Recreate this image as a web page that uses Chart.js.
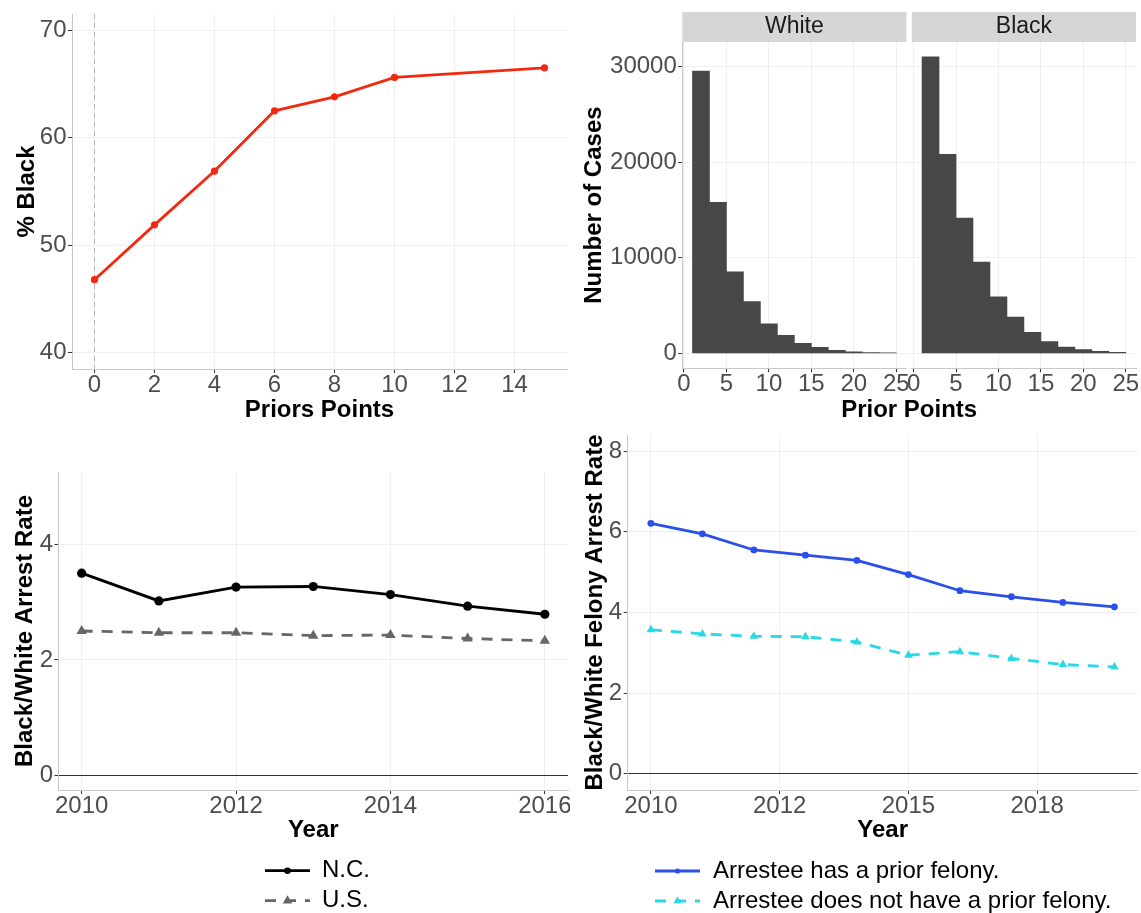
<!DOCTYPE html>
<html>
<head>
<meta charset="utf-8">
<title>Priors, race and arrest rates</title>
<script src="https://cdn.jsdelivr.net/npm/chart.js@4.4.1/dist/chart.umd.min.js"></script>
<style>
  html, body { margin: 0; padding: 0; background: #ffffff; }
  #page { position: relative; width: 1141px; height: 913px; overflow: hidden; }
  #page canvas { position: absolute; }
</style>
</head>
<body>
<div id="page">
  <canvas id="priorsChart" width="570" height="430" style="left:0;top:0"></canvas>
  <canvas id="histChart" width="571" height="430" style="left:570px;top:0"></canvas>
  <canvas id="arrestChart" width="570" height="483" style="left:0;top:430px"></canvas>
  <canvas id="felonyChart" width="571" height="483" style="left:570px;top:430px"></canvas>
</div>
<script>
// ---- Datos ----

// Panel 1: % Black según puntos de antecedentes
const priorPoints = [0, 2, 4, 6, 8, 10, 15];
const pctBlack = [46.8, 51.9, 56.9, 62.5, 63.8, 65.6, 66.5];
const pctTicks = [40, 50, 60, 70];
const priorTicks = [0, 2, 4, 6, 8, 10, 12, 14];

// Panel 2: histograma de casos (bins de ancho 2, de 1 a 25)
const facetLabels = ['White', 'Black'];
const binCenters = [2, 4, 6, 8, 10, 12, 14, 16, 18, 20, 22, 24];
const whiteCases = [29500, 15780, 8520, 5420, 3090, 1880, 1040, 630, 320, 170, 90, 50];
const blackCases = [31000, 20800, 14150, 9550, 5900, 3800, 2190, 1220, 650, 400, 220, 110];
const caseTicks = [0, 10000, 20000, 30000];
const binTicks = [0, 5, 10, 15, 20, 25];

// Panel 3: razón de arrestos Black/White
const arrestYears = [2010, 2011, 2012, 2013, 2014, 2015, 2016];
const ncRate = [3.50, 3.02, 3.26, 3.27, 3.13, 2.93, 2.79];
const usRate = [2.50, 2.47, 2.47, 2.42, 2.43, 2.37, 2.33];
const arrestRateTicks = [0, 2, 4];
const arrestYearTicks = [2010, 2012, 2014, 2016];
const arrestSeriesLabels = ['N.C.', 'U.S.'];

// Panel 4: razón de arrestos por delito grave
const felonyYears = [2010, 2011, 2012, 2013, 2014, 2015, 2016, 2017, 2018, 2019];
const priorFelony = [6.21, 5.95, 5.55, 5.42, 5.29, 4.94, 4.54, 4.39, 4.25, 4.14];
const noPriorFelony = [3.57, 3.47, 3.41, 3.40, 3.27, 2.94, 3.03, 2.86, 2.71, 2.65];
const felonyRateTicks = [0, 2, 4, 6, 8];
const felonyYearTicks = [2010, 2012.5, 2015, 2017.5];
const felonyYearLabels = ['2010', '2012', '2015', '2018'];
const felonySeriesLabels = ['Arrestee has a prior felony.', 'Arrestee does not have a prior felony.'];

// ---- Estilo común ----
const FONT = "'Liberation Sans', Arial, Helvetica, sans-serif";
const GRID = '#efefef';
const ZERO_LINE = '#333333';
const AXIS_LINE = '#c8c8c8';
const TICK_MARK = '#333333';
const TICK_TEXT = '#4d4d4d';

Chart.defaults.font.family = FONT;
Chart.defaults.animation = false;
Chart.defaults.responsive = false;
Chart.defaults.events = [];
Chart.defaults.plugins.legend.display = false;
Chart.defaults.plugins.tooltip.enabled = false;

function toPoints(xs, ys) {
    return xs.map((x, i) => ({ x: x, y: ys[i] }));
}

// Eje lineal con ticks fijos y tamaño fijo (para controlar el área del gráfico)
function axis(cfg) {
    const vertical = cfg.position === 'left';
    return {
        type: 'linear',
        position: cfg.position,
        min: cfg.min,
        max: cfg.max,
        offset: false,
        stack: cfg.stack,
        stackWeight: cfg.stackWeight,
        afterBuildTicks: function(scale) {
            scale.ticks = cfg.ticks.map(v => ({ value: v }));
        },
        afterFit: function(scale) {
            if (vertical) scale.width = cfg.size; else scale.height = cfg.size;
            scale.paddingLeft = scale.paddingRight = scale.paddingTop = scale.paddingBottom = 0;
        },
        ticks: {
            autoSkip: false,
            maxRotation: 0,
            color: TICK_TEXT,
            padding: cfg.pad,
            font: { size: 24, lineHeight: 1 },
            callback: cfg.labels ? (v, i) => cfg.labels[i] : v => String(v)
        },
        grid: {
            offset: false,
            color: cfg.zeroLine ? (c => (c.tick && c.tick.value === 0) ? ZERO_LINE : GRID) : GRID,
            tickColor: TICK_MARK,
            tickLength: 4,
            lineWidth: 1
        },
        border: { color: AXIS_LINE, width: 1 },
        title: cfg.title ? {
            display: true,
            text: cfg.title,
            color: '#000000',
            font: { size: 24, weight: 'bold', lineHeight: 1.2 },
            padding: cfg.titlePad
        } : { display: false }
    };
}

// Eje vacío usado como separador o como franja de faceta
function blankAxis(position, stack, weight, size, title) {
    return {
        type: 'linear',
        position: position,
        stack: stack,
        stackWeight: weight,
        offset: false,
        afterFit: function(scale) {
            scale.height = size;
            scale.paddingLeft = scale.paddingRight = scale.paddingTop = scale.paddingBottom = 0;
        },
        ticks: { display: false },
        grid: { display: false },
        border: { display: false },
        title: title ? {
            display: true,
            text: title,
            color: '#1a1a1a',
            font: { size: 23, lineHeight: 1.2 },
            padding: { top: 1, bottom: 0 }
        } : { display: false }
    };
}

// Fondo gris de las franjas de faceta
const stripBackground = {
    id: 'stripBackground',
    beforeDraw(chart) {
        const ctx = chart.ctx;
        ctx.save();
        ctx.fillStyle = '#d6d6d6';
        Object.values(chart.scales).forEach(s => {
            if (s.options.position === 'top' && s.options.title.display) {
                ctx.fillRect(s.left, s.top, s.width, s.height);
            }
        });
        ctx.restore();
    }
};

// Leyenda vertical estilo ggplot: línea + marcador + texto
function drawMarker(ctx, style, r, x, y) {
    ctx.beginPath();
    if (style === 'triangle') {
        for (let k = 0; k < 3; k++) {
            const a = k * 2 * Math.PI / 3;
            const px = x + Math.sin(a) * r;
            const py = y - Math.cos(a) * r;
            if (k === 0) ctx.moveTo(px, py); else ctx.lineTo(px, py);
        }
        ctx.closePath();
    } else {
        ctx.arc(x, y, r, 0, Math.PI * 2);
    }
    ctx.fill();
}

const keyLegend = {
    id: 'keyLegend',
    afterDraw(chart, args, opts) {
        const ctx = chart.ctx;
        chart.data.datasets.forEach((ds, i) => {
            const y = opts.rows[i];
            ctx.save();
            ctx.strokeStyle = ds.borderColor;
            ctx.lineWidth = ds.borderWidth;
            ctx.setLineDash(ds.borderDash || []);
            ctx.beginPath();
            ctx.moveTo(opts.keyLeft, y);
            ctx.lineTo(opts.keyLeft + opts.keyWidth, y);
            ctx.stroke();
            ctx.setLineDash([]);
            ctx.fillStyle = ds.pointBackgroundColor;
            drawMarker(ctx, ds.pointStyle, opts.markerRadius[i], opts.keyLeft + opts.keyWidth / 2, y);
            ctx.fillStyle = '#000000';
            ctx.font = '24px ' + FONT;
            ctx.textBaseline = 'middle';
            ctx.textAlign = 'left';
            ctx.fillText(ds.label, opts.textLeft, y);
            ctx.restore();
        });
    }
};

// ---- Panel 1: % Black ----
new Chart(document.getElementById('priorsChart'), {
    type: 'line',
    data: {
        datasets: [{
            label: '% Black',
            data: toPoints(priorPoints, pctBlack),
            borderColor: '#f2290f',
            backgroundColor: '#f2290f',
            pointBackgroundColor: '#f2290f',
            pointBorderWidth: 0,
            pointRadius: 3.6,
            borderWidth: 2.8,
            tension: 0
        }]
    },
    options: {
        devicePixelRatio: 1,
        layout: { autoPadding: false, padding: { top: 14, right: 3, bottom: 0, left: 0 } },
        scales: {
            x: axis({ position: 'bottom', min: -0.75, max: 15.75, ticks: priorTicks, size: 61, pad: 0,
                      title: 'Priors Points', titlePad: { top: 0, bottom: 5 } }),
            xZero: {
                type: 'linear', position: 'bottom', min: -0.75, max: 15.75,
                afterBuildTicks: s => { s.ticks = [{ value: 0 }]; },
                afterFit: s => { s.height = 0; s.paddingLeft = s.paddingRight = 0; },
                ticks: { display: false },
                grid: { color: '#b4b4b4', drawTicks: false, lineWidth: 1 },
                border: { display: false, dash: [5, 4] }
            },
            y: axis({ position: 'left', min: 38.5, max: 71.5, ticks: pctTicks, size: 72, pad: 1.5,
                      title: '% Black', titlePad: { top: 13, bottom: 0 } })
        }
    }
});

// ---- Panel 2: histograma facetado ----
new Chart(document.getElementById('histChart'), {
    type: 'bar',
    data: {
        datasets: [{
            label: facetLabels[0],
            data: toPoints(binCenters, whiteCases),
            xAxisID: 'xWhite',
            yAxisID: 'y',
            backgroundColor: '#474747',
            grouped: false,
            categoryPercentage: 1,
            barPercentage: 1
        }, {
            label: facetLabels[1],
            data: toPoints(binCenters, blackCases),
            xAxisID: 'xBlack',
            yAxisID: 'y',
            backgroundColor: '#474747',
            grouped: false,
            categoryPercentage: 1,
            barPercentage: 1
        }]
    },
    options: {
        devicePixelRatio: 1,
        layout: { autoPadding: false, padding: { top: 12, right: 5, bottom: 0, left: 0 } },
        plugins: {
            subtitle: {
                display: true,
                position: 'bottom',
                fullSize: false,
                text: 'Prior Points',
                color: '#000000',
                font: { size: 24, weight: 'bold', lineHeight: 1.2 },
                padding: { top: 0, bottom: 5 }
            }
        },
        scales: {
            y: axis({ position: 'left', min: -1550, max: 32550, ticks: caseTicks, size: 112.3, pad: 1.5,
                      title: 'Number of Cases', titlePad: { top: 10, bottom: 0 } }),
            xWhite: axis({ position: 'bottom', min: -0.2, max: 26.2, ticks: binTicks, size: 28, pad: 0,
                           stack: 'facet', stackWeight: 224 }),
            xGap: blankAxis('bottom', 'facet', 5.4, 28, null),
            xBlack: axis({ position: 'bottom', min: -0.2, max: 26.2, ticks: binTicks, size: 28, pad: 0,
                           stack: 'facet', stackWeight: 224 }),
            // las cajas superiores se colocan en orden inverso
            stripBlack: blankAxis('top', 'strip', 224, 30, facetLabels[1]),
            stripGap: blankAxis('top', 'strip', 5.4, 30, null),
            stripWhite: blankAxis('top', 'strip', 224, 30, facetLabels[0])
        }
    },
    plugins: [stripBackground]
});

// ---- Panel 3: Black/White Arrest Rate ----
new Chart(document.getElementById('arrestChart'), {
    type: 'line',
    data: {
        datasets: [{
            label: arrestSeriesLabels[0],
            data: toPoints(arrestYears, ncRate),
            borderColor: '#000000',
            pointBackgroundColor: '#000000',
            pointBorderWidth: 0,
            pointStyle: 'circle',
            pointRadius: 4.6,
            borderWidth: 2.8,
            tension: 0
        }, {
            label: arrestSeriesLabels[1],
            data: toPoints(arrestYears, usRate),
            borderColor: '#666666',
            pointBackgroundColor: '#666666',
            pointBorderWidth: 0,
            pointStyle: 'triangle',
            pointRadius: 6,
            borderWidth: 2.8,
            borderDash: [11, 9],
            tension: 0
        }]
    },
    options: {
        devicePixelRatio: 1,
        layout: { autoPadding: false, padding: { top: 42, right: 2, bottom: 68.6, left: 0 } },
        plugins: {
            keyLegend: { keyLeft: 265, keyWidth: 45, textLeft: 322, rows: [440.7, 470.7], markerRadius: [3.3, 5.5] }
        },
        scales: {
            x: axis({ position: 'bottom', min: 2009.7, max: 2016.3, ticks: arrestYearTicks, size: 54.4, pad: 0,
                      title: 'Year', titlePad: { top: 0, bottom: 0 } }),
            y: axis({ position: 'left', min: -0.25, max: 5.25, ticks: arrestRateTicks, size: 58.5, pad: 1.5,
                      zeroLine: true, title: 'Black/White Arrest Rate', titlePad: { top: 11, bottom: 0 } })
        }
    },
    plugins: [keyLegend]
});

// ---- Panel 4: Black/White Felony Arrest Rate ----
new Chart(document.getElementById('felonyChart'), {
    type: 'line',
    data: {
        datasets: [{
            label: felonySeriesLabels[0],
            data: toPoints(felonyYears, priorFelony),
            borderColor: '#2b50ea',
            pointBackgroundColor: '#2b50ea',
            pointBorderWidth: 0,
            pointStyle: 'circle',
            pointRadius: 3.4,
            borderWidth: 2.8,
            tension: 0
        }, {
            label: felonySeriesLabels[1],
            data: toPoints(felonyYears, noPriorFelony),
            borderColor: '#29d8e6',
            pointBackgroundColor: '#29d8e6',
            pointBorderWidth: 0,
            pointStyle: 'triangle',
            pointRadius: 5,
            borderWidth: 2.8,
            borderDash: [11, 9],
            tension: 0
        }]
    },
    options: {
        devicePixelRatio: 1,
        layout: { autoPadding: false, padding: { top: 5, right: 3.4, bottom: 68.6, left: 0 } },
        plugins: {
            keyLegend: { keyLeft: 85, keyWidth: 45, textLeft: 143, rows: [441, 471], markerRadius: [2.6, 4.6] }
        },
        scales: {
            x: axis({ position: 'bottom', min: 2009.55, max: 2019.45, ticks: felonyYearTicks, labels: felonyYearLabels,
                      size: 54.4, pad: 0, title: 'Year', titlePad: { top: 0, bottom: 0 } }),
            y: axis({ position: 'left', min: -0.4, max: 8.4, ticks: felonyRateTicks, size: 57.7, pad: 1.5,
                      zeroLine: true, title: 'Black/White Felony Arrest Rate', titlePad: { top: 11, bottom: 0 } })
        }
    },
    plugins: [keyLegend]
});
</script>
</body>
</html>
